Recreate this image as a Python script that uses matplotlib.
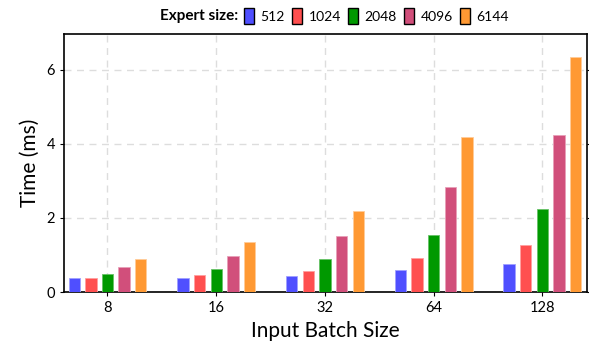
import matplotlib
matplotlib.use("Agg")
import matplotlib.pyplot as plt
import numpy as np
from matplotlib.patches import Patch

batch_sizes = ["8", "16", "32", "64", "128"]
expert_sizes = ["512", "1024", "2048", "4096", "6144"]
t512 = [0.39, 0.38, 0.42, 0.60, 0.76]
t1024 = [0.38, 0.45, 0.58, 0.91, 1.26]
t2048 = [0.48, 0.62, 0.88, 1.55, 2.25]
t4096 = [0.68, 0.96, 1.51, 2.85, 4.24]
t6144 = [0.89, 1.35, 2.19, 4.19, 6.34]
series = [t512, t1024, t2048, t4096, t6144]
colors = ["#4F4FFF", "#FF4F4F", "#009900", "#D14F7B", "#FF9933"]
edges = ["#A0A0FF", "#FFA0A0", "#66C266", "#E8A0B8", "#FFCC99"]

plt.rcParams['font.family'] = ['Lato', 'DejaVu Sans']

fig = plt.figure(figsize=(5.89, 3.52), dpi=100)
ax = fig.add_axes([64/589, 1-292/352, (587-64)/589, (292-34)/352])

x = np.arange(len(batch_sizes))
step = 0.153
w = 0.105
for i, (vals, c, e) in enumerate(zip(series, colors, edges)):
    ax.bar(x + (i - 2) * step, vals, width=w, color=c, edgecolor=e,
           linewidth=0.6, zorder=3, label=expert_sizes[i])

ax.set_xlim(-0.4, 4.41)
ax.set_ylim(0, 6.97)
ax.set_xticks(x)
ax.set_xticklabels(batch_sizes, fontsize=10.5)
ax.set_yticks([0, 2, 4, 6])
ax.set_yticklabels(["0", "2", "4", "6"], fontsize=10.5)
ax.grid(True, linestyle=(0, (5, 4)), color="#DDDDDD", linewidth=1.0, zorder=0)
ax.tick_params(axis='y', which='both', right=True, direction='out', length=3)
ax.tick_params(axis='x', direction='out', length=3)
for s in ax.spines.values():
    s.set_linewidth(1.2)
ax.set_ylabel("Time (ms)", fontsize=15, labelpad=5)
ax.set_xlabel("Input Batch Size", fontsize=15, labelpad=4)

fig.text(238/589, 1-16/352, "Expert size:", ha='right', va='center',
         fontsize=11, fontweight='bold')
lh = [Patch(facecolor=c, edgecolor="black", linewidth=1.0) for c in colors]
fig.legend(lh, expert_sizes, loc='center left', bbox_to_anchor=(244/589, 1-16/352),
           ncol=5, frameon=False, fontsize=10, handlelength=0.75, handleheight=1.3,
           handletextpad=0.45, columnspacing=0.5, borderpad=0, borderaxespad=0)

fig.savefig("out.png", dpi=100)
